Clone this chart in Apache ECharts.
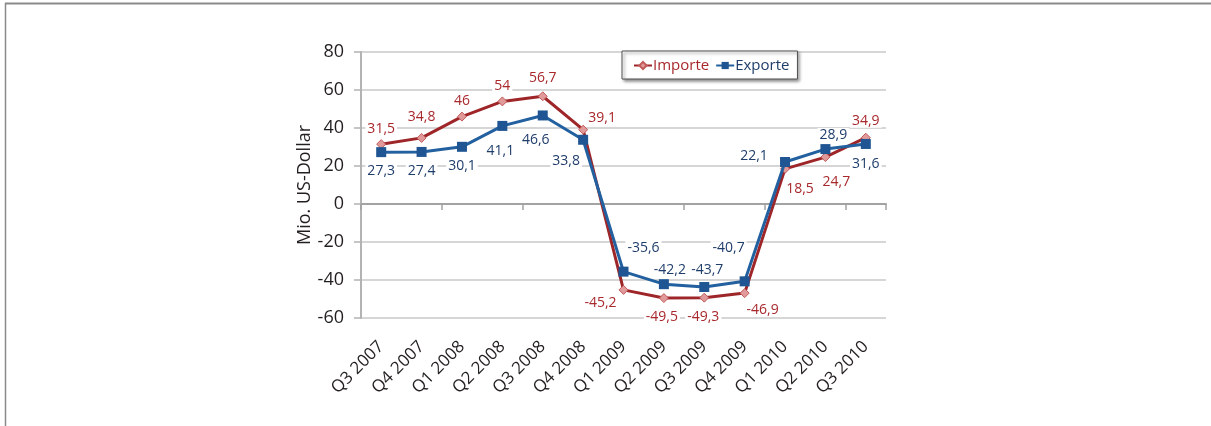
<!DOCTYPE html>
<html>
<head>
<meta charset="utf-8">
<script src="https://cdn.jsdelivr.net/npm/echarts@6/dist/echarts.min.js"></script>
<style>
  html, body { margin: 0; padding: 0; background: #fff; }
  #chart { width: 1211px; height: 426px; }
</style>
</head>
<body>
<div id="chart"></div>
<script>
// Quartale
const categories = ['Q3 2007', 'Q4 2007', 'Q1 2008', 'Q2 2008', 'Q3 2008', 'Q4 2008',
  'Q1 2009', 'Q2 2009', 'Q3 2009', 'Q4 2009', 'Q1 2010', 'Q2 2010', 'Q3 2010'];

// Mio. US-Dollar
const importe = [31.5, 34.8, 46, 54, 56.7, 39.1, -45.2, -49.5, -49.3, -46.9, 18.5, 24.7, 34.9];
const exporte = [27.3, 27.4, 30.1, 41.1, 46.6, 33.8, -35.6, -42.2, -43.7, -40.7, 22.1, 28.9, 31.6];

const yTicks = { min: -60, max: 80, interval: 20 };

// Verschiebung der Datenbeschriftungen (wie im Original von Hand gesetzt)
const importeLabelShift = [[0, -15], [0, -21], [0, -16], [0, -15], [0, -18], [19, -12],
  [-23, 13], [-2, 19], [-1, 19], [18, 17], [15, 20], [11, 25], [0, -17]];
const exporteLabelShift = [[0, 19], [0, 19], [0, 19], [-2, 25], [-7, 25], [-17, 21],
  [20, -24], [6, -14], [3, -17], [-16, -33], [-31, -6], [8, -14], [0, 20]];

const RED = '#9e2528';
const RED_TEXT = '#a8282c';
const BLUE = '#22609f';
const BLUE_TEXT = '#1f3d6b';
const FONT = '"Open Sans", sans-serif';

const fmt = v => String(v).replace('.', ',');

function withLabels(values, shifts, color) {
  return values.map((v, i) => ({
    value: v,
    label: {
      show: true,
      position: 'inside',
      offset: shifts[i],
      formatter: fmt(v),
      color: color,
      fontFamily: FONT,
      fontSize: 14,
      backgroundColor: '#fff',
      padding: [0, 2]
    }
  }));
}

const chart = echarts.init(document.getElementById('chart'));

chart.setOption({
  animation: false,
  backgroundColor: '#fff',
  textStyle: { fontFamily: FONT },
  grid: { left: 361, right: 325, top: 52, bottom: 108, containLabel: false },
  legend: {
    left: 622,
    top: 51,
    padding: [7, 8, 6, 11],
    itemGap: 6,
    itemWidth: 18,
    itemHeight: 9,
    backgroundColor: '#fff',
    borderColor: '#505050',
    borderWidth: 1,
    shadowColor: 'rgba(0,0,0,0.45)',
    shadowBlur: 3,
    shadowOffsetX: 2,
    shadowOffsetY: 2,
    textStyle: { fontSize: 15, fontFamily: FONT, padding: [0, 0, 0, -4] },
    data: [
      { name: 'Importe', textStyle: { color: RED_TEXT } },
      { name: 'Exporte', textStyle: { color: BLUE_TEXT } }
    ]
  },
  xAxis: [
    {
      type: 'category',
      data: categories,
      boundaryGap: true,
      position: 'bottom',
      axisLine: { onZero: true, lineStyle: { color: '#a3a3a3', width: 2 } },
      axisTick: { show: true, length: 6, lineStyle: { color: '#a3a3a3', width: 1.5 } },
      axisLabel: { show: false }
    },
    {
      type: 'category',
      data: categories,
      boundaryGap: true,
      position: 'bottom',
      axisLine: { show: false, onZero: false },
      axisTick: { show: false },
      axisLabel: { rotate: 45, fontSize: 17, color: '#231f20', margin: 26, fontFamily: FONT }
    }
  ],
  yAxis: {
    type: 'value',
    min: yTicks.min,
    max: yTicks.max,
    interval: yTicks.interval,
    name: 'Mio. US-Dollar',
    nameLocation: 'middle',
    nameGap: 46,
    nameTextStyle: { fontSize: 18, color: '#231f20', fontFamily: FONT },
    axisLine: { show: true, lineStyle: { color: '#b3b3b3', width: 2 } },
    axisTick: { show: true, length: 7, lineStyle: { color: '#b3b3b3', width: 1.5 } },
    axisLabel: { fontSize: 18, color: '#231f20', margin: 17, fontFamily: FONT },
    splitLine: { lineStyle: { color: '#c9c9c9', width: 1.5 } }
  },
  series: [
    {
      name: 'Importe',
      type: 'line',
      xAxisIndex: 0,
      data: withLabels(importe, importeLabelShift, RED_TEXT),
      symbol: 'diamond',
      symbolSize: 9,
      lineStyle: { color: RED, width: 3 },
      itemStyle: { color: '#e09a9a', borderColor: '#c25a5a', borderWidth: 1 },
      color: RED,
      z: 2
    },
    {
      name: 'Exporte',
      type: 'line',
      xAxisIndex: 0,
      data: withLabels(exporte, exporteLabelShift, BLUE_TEXT),
      symbol: 'rect',
      symbolSize: 10,
      lineStyle: { color: BLUE, width: 3 },
      itemStyle: { color: '#1f5592' },
      color: BLUE,
      z: 3
    }
  ],
  graphic: [
    { type: 'line', shape: { x1: 5, y1: 3.5, x2: 1211, y2: 3.5 }, style: { stroke: '#8a8a8a', lineWidth: 2 }, silent: true },
    { type: 'line', shape: { x1: 5.5, y1: 3, x2: 5.5, y2: 426 }, style: { stroke: '#8a8a8a', lineWidth: 1.5 }, silent: true }
  ]
});
</script>
</body>
</html>
